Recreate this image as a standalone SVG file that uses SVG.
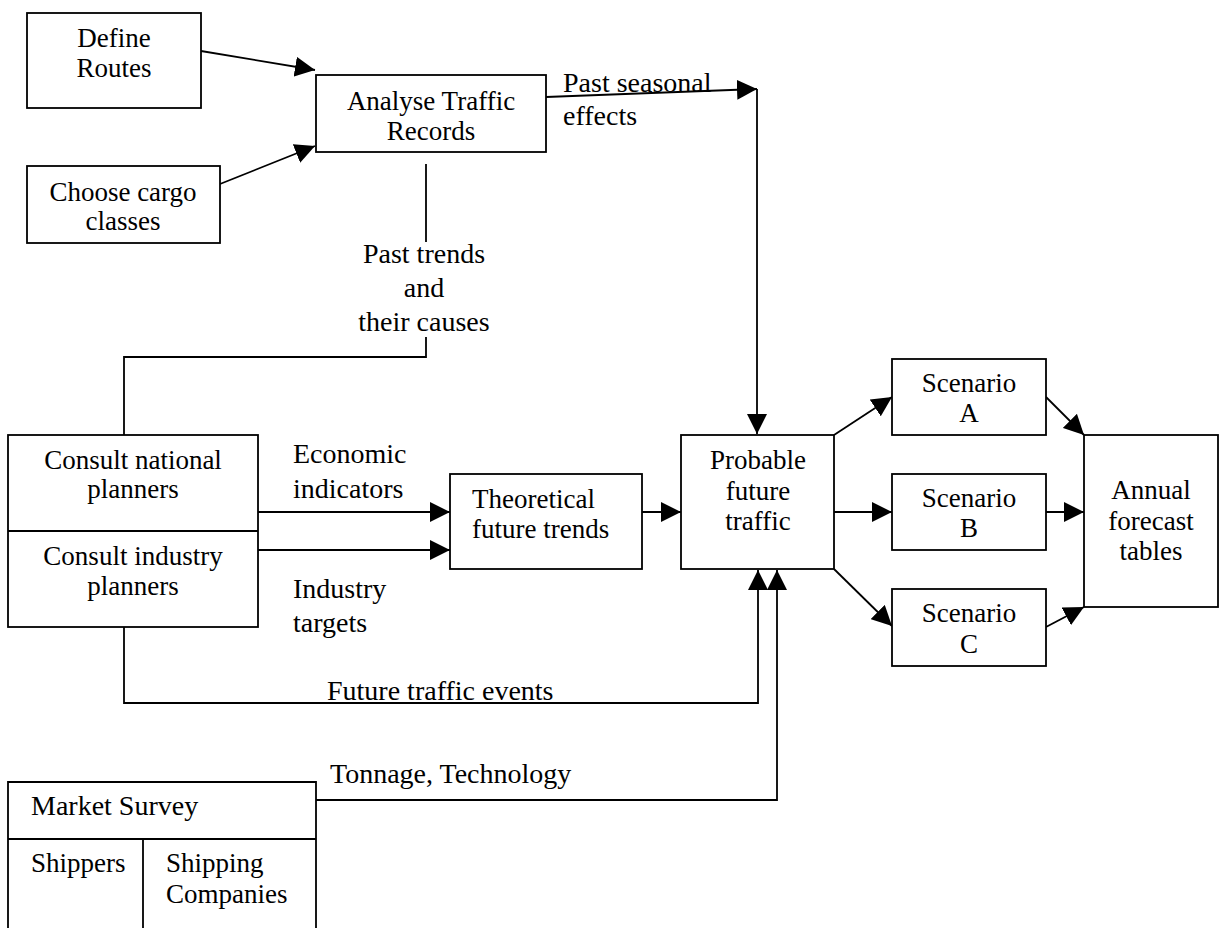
<svg xmlns="http://www.w3.org/2000/svg" width="1223" height="928" viewBox="0 0 1223 928">
<style>
.box{fill:#fff;stroke:#000;stroke-width:1.8}
.ln{fill:none;stroke:#000;stroke-width:1.8}
.t{font-family:"Liberation Serif","Times New Roman",serif;font-size:27px;fill:#000}
.c{text-anchor:middle}
.lb{font-family:"Liberation Serif","Times New Roman",serif;font-size:28px;fill:#000}
</style>
<defs>
<marker id="ah" viewBox="0 0 20 20" markerWidth="20" markerHeight="20" markerUnits="userSpaceOnUse" refX="20" refY="10" orient="auto">
<path d="M0,0 L20,10 L0,20 z" fill="#000"/>
</marker>
</defs>
<rect width="1223" height="928" fill="#fff"/>
<g id="connectors">
<line class="ln" x1="201" y1="51" x2="315" y2="70" marker-end="url(#ah)"/>
<line class="ln" x1="220" y1="184" x2="315" y2="146" marker-end="url(#ah)"/>
<line class="ln" x1="546" y1="97" x2="757" y2="89" marker-end="url(#ah)"/>
<line class="ln" x1="757" y1="89" x2="757" y2="434" marker-end="url(#ah)"/>
<line class="ln" x1="426" y1="164" x2="426" y2="242"/>
<polyline class="ln" points="426,337 426,357 124,357 124,435"/>
<line class="ln" x1="258" y1="512" x2="450" y2="512" marker-end="url(#ah)"/>
<line class="ln" x1="258" y1="550" x2="450" y2="550" marker-end="url(#ah)"/>
<line class="ln" x1="642" y1="512" x2="681" y2="512" marker-end="url(#ah)"/>
<polyline class="ln" points="124,627 124,703 758,703 758,570" marker-end="url(#ah)"/>
<polyline class="ln" points="316,800 777,800 777,570" marker-end="url(#ah)"/>
<line class="ln" x1="834" y1="435" x2="892" y2="397" marker-end="url(#ah)"/>
<line class="ln" x1="834" y1="512" x2="892" y2="512" marker-end="url(#ah)"/>
<line class="ln" x1="834" y1="569" x2="892" y2="626" marker-end="url(#ah)"/>
<line class="ln" x1="1046" y1="397" x2="1084" y2="435" marker-end="url(#ah)"/>
<line class="ln" x1="1046" y1="512" x2="1084" y2="512" marker-end="url(#ah)"/>
<line class="ln" x1="1046" y1="627" x2="1084" y2="607" marker-end="url(#ah)"/>
</g>
<g id="labels">
<text class="lb" x="563" y="92">Past seasonal</text>
<text class="lb" x="563" y="125">effects</text>
<text class="lb c" x="424" y="263">Past trends</text>
<text class="lb c" x="424" y="297">and</text>
<text class="lb c" x="424" y="331">their causes</text>
<text class="lb" x="293" y="463">Economic</text>
<text class="lb" x="293" y="498">indicators</text>
<text class="lb" x="293" y="598">Industry</text>
<text class="lb" x="293" y="632">targets</text>
<text class="lb" x="327" y="700">Future traffic events</text>
<text class="lb" x="330" y="783">Tonnage, Technology</text>
</g>
<g id="define-routes">
<rect class="box" x="27" y="13" width="174" height="95"/>
<text class="t c" x="114" y="47">Define</text>
<text class="t c" x="114" y="77">Routes</text>
</g>
<g id="choose-cargo">
<rect class="box" x="27" y="166" width="193" height="77"/>
<text class="t c" x="123" y="201">Choose cargo</text>
<text class="t c" x="123" y="230">classes</text>
</g>
<g id="analyse-traffic">
<rect class="box" x="316" y="75" width="230" height="77"/>
<text class="t c" x="431" y="110">Analyse Traffic</text>
<text class="t c" x="431" y="140">Records</text>
</g>
<g id="consult">
<rect class="box" x="8" y="435" width="250" height="192"/>
<line class="ln" x1="8" y1="531" x2="258" y2="531"/>
<text class="t c" x="133" y="469">Consult national</text>
<text class="t c" x="133" y="498">planners</text>
<text class="t c" x="133" y="565">Consult industry</text>
<text class="t c" x="133" y="595">planners</text>
</g>
<g id="theoretical">
<rect class="box" x="450" y="474" width="192" height="95"/>
<text class="t" x="472" y="508">Theoretical</text>
<text class="t" x="472" y="538">future trends</text>
</g>
<g id="probable">
<rect class="box" x="681" y="435" width="153" height="134"/>
<text class="t c" x="758" y="469">Probable</text>
<text class="t c" x="758" y="500">future</text>
<text class="t c" x="758" y="530">traffic</text>
</g>
<g id="scenario-a">
<rect class="box" x="892" y="359" width="154" height="76"/>
<text class="t c" x="969" y="392">Scenario</text>
<text class="t c" x="969" y="422">A</text>
</g>
<g id="scenario-b">
<rect class="box" x="892" y="474" width="154" height="76"/>
<text class="t c" x="969" y="507">Scenario</text>
<text class="t c" x="969" y="537">B</text>
</g>
<g id="scenario-c">
<rect class="box" x="892" y="589" width="154" height="77"/>
<text class="t c" x="969" y="622">Scenario</text>
<text class="t c" x="969" y="653">C</text>
</g>
<g id="annual">
<rect class="box" x="1084" y="435" width="134" height="172"/>
<text class="t c" x="1151" y="499">Annual</text>
<text class="t c" x="1151" y="530">forecast</text>
<text class="t c" x="1151" y="560">tables</text>
</g>
<g id="market-survey">
<path class="ln" d="M8,935 L8,782 L316,782 L316,935 M8,839 L316,839 M143,839 L143,935" style="fill:#fff"/>
<text class="lb" x="31" y="815">Market Survey</text>
<text class="t" x="31" y="872">Shippers</text>
<text class="t" x="166" y="872">Shipping</text>
<text class="t" x="166" y="903">Companies</text>
</g>
</svg>
